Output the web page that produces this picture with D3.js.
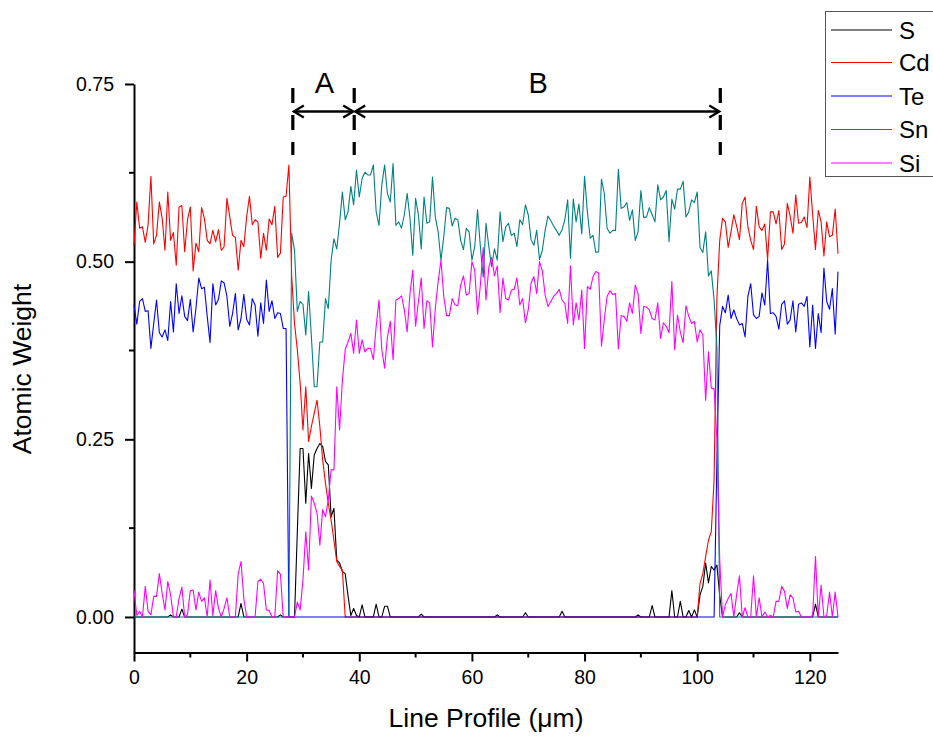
<!DOCTYPE html>
<html>
<head>
<meta charset="utf-8">
<script src="https://cdn.jsdelivr.net/npm/d3@7"></script>
<style>
  html, body { margin: 0; padding: 0; background: #fff; }
  svg { display: block; }
  text { font-family: "Liberation Sans", Arial, sans-serif; fill: #000; }
</style>
</head>
<body>
<svg id="chart" width="933" height="738"></svg>
<script>
// EDX line profile across the device stack: atomic weight vs. position (0.5 µm steps)
const profileStep = 0.5;

const series = ["S", "Cd", "Te", "Sn", "Si"];
const seriesColors = ["#000000", "#ff0000", "#0000ff", "#008080", "#ff00ff"];

const sValues = [
  0,0,0,0,0,0,0,0,0,0,
  0,0,0,.003,0,0,0,.011,0,0,
  0,0,0,0,0,0,0,0,0,0,
  0,0,0,0,0,0,0,0,.019,0,
  0,0,0,0,0,0,0,0,0,0,
  0,0,.003,0,0,0,0,0,.12,.237,
  .237,.160,.230,.181,.228,.237,.244,.240,.219,.214,
  .141,.153,.080,.076,.064,.061,.030,.002,.012,.002,
  0,.017,0,0,0,0,.018,0,0,.015,
  .015,0,0,0,0,0,0,0,0,0,
  0,0,.004,0,0,0,0,0,0,0,
  0,0,0,0,0,0,0,0,0,0,
  0,0,0,0,0,0,0,0,0,.003,
  0,0,0,0,0,0,0,0,0,.006,
  0,0,0,0,0,0,0,0,0,0,
  0,0,.008,0,0,0,0,0,0,0,
  0,0,0,0,0,0,0,0,0,0,
  0,0,0,0,0,0,0,0,0,.003,
  0,0,0,0,.016,0,0,0,0,0,
  0,.037,0,0,.022,0,0,.009,0,.010,
  0,.031,.043,.076,.048,.071,.066,.073,.030,0,
  0,0,0,0,0,.006,0,0,0,0,
  0,0,0,0,0,0,0,0,0,0,
  0,0,0,0,0,0,0,0,0,0,
  0,0,.018,0,0,0,0,0,0,0,
  0
];

const cdValues = [
  .523,.584,.547,.549,.527,.552,.620,.525,.537,.584,
  .561,.516,.598,.530,.541,.495,.577,.579,.514,.559,
  .577,.487,.526,.514,.576,.561,.530,.525,.544,.528,
  .545,.516,.521,.589,.563,.537,.534,.488,.530,.521,
  .563,.592,.552,.559,.556,.505,.540,.516,.560,.552,
  .578,.506,.512,.591,.592,.636,
  .479,.413,.376,.329,.263,.324,.247,.268,.287,.305,
  .268,.221,.188,.160,.136,.108,.078,.071,.066,0,
  0,0,0,0,0,0,0,0,0,0,0,0,0,0,0,0,0,0,0,0,0,0,0,0,0,
  0,0,0,0,0,0,0,0,0,0,0,0,0,0,0,0,0,0,0,0,0,0,0,0,0,
  0,0,0,0,0,0,0,0,0,0,0,0,0,0,0,0,0,0,0,0,0,0,0,0,0,
  0,0,0,0,0,0,0,0,0,0,0,0,0,0,0,0,0,0,0,0,0,0,0,0,0,
  0,0,0,0,0,0,0,0,0,0,0,0,0,0,0,0,0,0,0,0,0,0,0,0,0,
  .047,.061,.085,.108,.120,.193,.450,.530,.561,
  .556,.520,.542,.566,.550,.531,.582,.591,.549,.530,
  .517,.578,.549,.544,.553,.503,.570,.570,.553,.572,
  .517,.525,.582,.564,.540,.594,.554,.555,.563,.548,
  .619,.566,.517,.572,.556,.508,.556,.535,.537,.574,
  .511
];

const teValues = [
  .439,.412,.444,.448,.430,.431,.378,.413,.446,.400,
  .394,.404,.389,.444,.401,.469,.427,.452,.423,.417,
  .447,.401,.434,.477,.462,.464,.423,.386,.469,.439,
  .447,.473,.470,.451,.409,.427,.455,.404,.420,.454,
  .419,.411,.448,.439,.395,.442,.413,.474,.430,.445,
  .420,.428,.427,.406,.406,
  0,0,0,0,0,0,0,0,0,0,0,0,0,0,0,0,0,0,0,0,0,0,0,0,0,0,0,0,0,0,0,0,0,0,0,0,0,0,
  0,0,0,0,0,0,0,0,0,0,0,0,0,0,0,0,0,0,0,0,0,0,0,0,0,0,0,0,0,0,0,0,0,0,0,0,0,0,
  0,0,0,0,0,0,0,0,0,0,0,0,0,0,0,0,0,0,0,0,0,0,0,0,0,0,0,0,0,0,0,0,0,0,0,0,0,0,
  0,0,0,0,0,0,0,0,0,0,0,0,0,0,0,0,0,0,0,0,0,0,0,0,0,0,0,0,0,0,0,0,0,0,0,0,0,0,
  .220,.410,.437,
  .428,.453,.420,.432,.420,.411,.413,.394,.451,.469,
  .425,.420,.423,.456,.439,.502,.427,.428,.423,.405,
  .440,.445,.412,.418,.445,.401,.440,.442,.437,.451,
  .380,.439,.378,.427,.400,.491,.444,.433,.462,.398,
  .486
];

const snValues = [
  0,0,0,0,0,0,0,0,0,0,0,0,0,0,0,0,0,0,0,0,0,0,0,0,0,0,0,0,
  0,0,0,0,0,0,0,0,0,0,0,0,0,0,0,0,0,0,0,0,0,0,0,0,0,0,0,0,
  .540,.516,.430,.444,.440,.397,.458,.394,.324,.324,
  .387,.387,.448,.434,.502,.532,.518,.554,.598,.559,
  .570,.606,.580,.629,.591,.617,.626,.622,.622,.636,
  .570,.551,.608,.636,.596,.584,.638,.551,.556,.547,
  .566,.596,.561,.509,.589,.566,.518,.591,.554,.556,
  .619,.563,.542,.502,.535,.576,.575,.550,.561,.559,
  .530,.517,.547,.542,.502,.521,.573,.521,.478,.554,
  .521,.493,.518,.502,.570,.528,.549,.554,.537,.540,
  .521,.559,.552,.580,.566,.531,.523,.544,.503,.516,
  .544,.564,.558,.550,.544,.537,.545,.559,.587,
  .505,.588,.556,.581,.539,.620,.570,.533,.537,.513,
  .514,.616,.596,.547,.540,.544,.544,.630,.575,.577,
  .583,.558,.573,.530,.542,.600,.562,.563,.576,.566,
  .556,.608,.587,.591,.600,.528,.588,.574,.602,.602,
  .613,.563,.570,.587,.583,.598,.520,.513,.542,.480,
  .487,.446,.380,
  0,0,0,0,0,0,0,0,0,0,0,0,0,0,0,0,0,0,0,0,0,0,
  0,0,0,0,0,0,0,0,0,0,0,0,0,0,0,0,0,0,0,0,0
];

const siValues = [
  .038,.002,.008,0,.043,.008,.003,.029,.029,.061,
  .033,.010,.050,.031,0,0,.026,.042,0,.003,
  .037,.038,.010,.035,.022,.027,0,.052,.002,.037,
  .012,0,.012,.027,0,0,0,.061,.078,.026,
  0,0,0,0,.050,.053,.047,.010,.009,0,
  0,.065,.060,0,0,0,
  0,0,.021,.010,.052,.120,.066,.170,.160,.146,
  .101,.151,.141,.165,.207,.207,.324,.263,.333,.376,
  .387,.399,.371,.418,.371,.390,.373,.378,.378,.362,
  .409,.446,.376,.350,.394,.416,.362,.446,.448,.452,
  .432,.401,.455,.488,.409,.444,
  .477,.406,.445,.442,.380,.434,.472,.502,.451,.424,
  .424,.448,.439,.438,.467,.480,.453,.455,.500,.488,
  .426,.467,.520,.446,.492,.506,.480,.494,.428,.477,
  .448,.446,.460,.461,.477,.439,.448,.414,.432,.470,
  .479,.455,.500,.487,.453,.437,.444,.451,.455,.461,
  .446,.441,.413,
  .494,.411,.442,.418,.460,.378,.465,.461,.479,.486,
  .484,.381,.418,.451,.459,.454,.455,.377,.424,.423,
  .416,.442,.427,.467,.455,.399,.437,.436,.432,.420,
  .418,.442,.392,.414,.409,.400,.472,.376,.425,.401,
  .386,.438,.423,.413,.416,.387,.404,.397,
  .305,.373,.322,.321,.250,.080,0,.017,.026,.033,
  0,.031,.058,0,.013,0,0,.058,0,.027,
  0,.007,0,.002,0,.022,.022,.043,.036,.012,
  .031,.027,.007,.008,0,0,0,0,.002,.085,
  0,.045,0,.002,.035,0,.035,0
];

const seriesValues = [sValues, cdValues, teValues, snValues, siValues];

const yTickLabels = ["0.00", "0.25", "0.50", "0.75"];
const yTicks = [0, 0.25, 0.5, 0.75];
const yMinorTicks = [0.125, 0.375, 0.625];
const xTicks = [0, 20, 40, 60, 80, 100, 120];
const xMinorTicks = [10, 30, 50, 70, 90, 110];

// Region boundaries (µm) for the A / B annotation
const regionEdges = [28.2, 39.1, 104.1];
const regionNames = ["A", "B"];

const svg = d3.select("#chart");
const x = d3.scaleLinear().domain([0, 125]).range([134, 838]);
const y = d3.scaleLinear().domain([-0.05, 0.75]).range([652.5, 84]);

// Axes
const yAxis = svg.append("g").attr("transform", "translate(134,0)")
  .call(d3.axisLeft(y).tickValues(yTicks)
    .tickFormat((d, i) => yTickLabels[i]).tickSize(9).tickSizeOuter(0).tickPadding(11));
yAxis.append("g").selectAll("line").data(yMinorTicks).join("line")
  .attr("x1", 0).attr("x2", -5).attr("y1", d => y(d)).attr("y2", d => y(d));

const xAxis = svg.append("g").attr("transform", "translate(0,652.5)")
  .call(d3.axisBottom(x).tickValues(xTicks).tickSize(9).tickSizeOuter(0).tickPadding(9));
xAxis.append("g").selectAll("line").data(xMinorTicks).join("line")
  .attr("y1", 0).attr("y2", 5).attr("x1", d => x(d)).attr("x2", d => x(d));

svg.selectAll(".domain").attr("stroke", "#000").attr("stroke-width", 2);
svg.selectAll(".tick line").attr("stroke", "#000").attr("stroke-width", 2);
yAxis.selectAll("g line").attr("stroke", "#000").attr("stroke-width", 2);
xAxis.selectAll("g line").attr("stroke", "#000").attr("stroke-width", 2);
svg.selectAll(".tick text").attr("font-size", 19.5)
  .attr("font-family", "'Liberation Sans', Arial, sans-serif").attr("fill", "#000");

// Axis titles
svg.append("text").attr("x", 486).attr("y", 727).attr("text-anchor", "middle")
  .attr("font-size", 26.5).text("Line Profile (μm)");
svg.append("text").attr("transform", "translate(31,369) rotate(-90)")
  .attr("text-anchor", "middle").attr("font-size", 26.5).text("Atomic Weight");

// Profiles
const line = d3.line()
  .x((d, i) => x(i * profileStep))
  .y(d => y(d));

svg.append("g").selectAll("path").data(seriesValues).join("path")
  .attr("d", d => line(d))
  .attr("fill", "none")
  .attr("stroke", (d, i) => seriesColors[i])
  .attr("stroke-width", 1.1)
  .attr("stroke-linejoin", "round");

// Region annotation: dashed boundaries, double arrows and labels
const ann = svg.append("g");
ann.selectAll("line.edge").data(regionEdges).join("line")
  .attr("class", "edge")
  .attr("x1", d => x(d)).attr("x2", d => x(d))
  .attr("y1", 88).attr("y2", 155)
  .attr("stroke", "#000").attr("stroke-width", 3.2)
  .attr("stroke-dasharray", "15,12");

const arrowY = 111.5;
const spans = regionNames.map((name, i) => ({ name, x0: x(regionEdges[i]), x1: x(regionEdges[i + 1]) }));
spans.forEach(s => {
  ann.append("line").attr("x1", s.x0 + 1).attr("x2", s.x1 - 1)
    .attr("y1", arrowY).attr("y2", arrowY)
    .attr("stroke", "#000").attr("stroke-width", 2.3);
  ann.append("path")
    .attr("d", `M${s.x0 + 11},${arrowY - 6} L${s.x0 + 1},${arrowY} L${s.x0 + 11},${arrowY + 6}`)
    .attr("fill", "none").attr("stroke", "#000").attr("stroke-width", 2.3);
  ann.append("path")
    .attr("d", `M${s.x1 - 11},${arrowY - 6} L${s.x1 - 1},${arrowY} L${s.x1 - 11},${arrowY + 6}`)
    .attr("fill", "none").attr("stroke", "#000").attr("stroke-width", 2.3);
  ann.append("text").attr("x", (s.x0 + s.x1) / 2 + 1).attr("y", 93)
    .attr("text-anchor", "middle").attr("font-size", 29).text(s.name);
});

// Legend
const legend = svg.append("g");
legend.append("rect").attr("x", 825.5).attr("y", 11.5).attr("width", 130).attr("height", 165)
  .attr("fill", "#fff").attr("stroke", "#555").attr("stroke-width", 1);
const legendRows = [30, 62.5, 96, 129.5, 163];
series.forEach((name, i) => {
  legend.append("line").attr("x1", 831).attr("x2", 892)
    .attr("y1", legendRows[i]).attr("y2", legendRows[i])
    .attr("stroke", seriesColors[i]).attr("stroke-width", 1.1);
  legend.append("text").attr("x", 899).attr("y", legendRows[i] + 8.5)
    .attr("font-size", 24).text(name);
});
</script>
</body>
</html>
